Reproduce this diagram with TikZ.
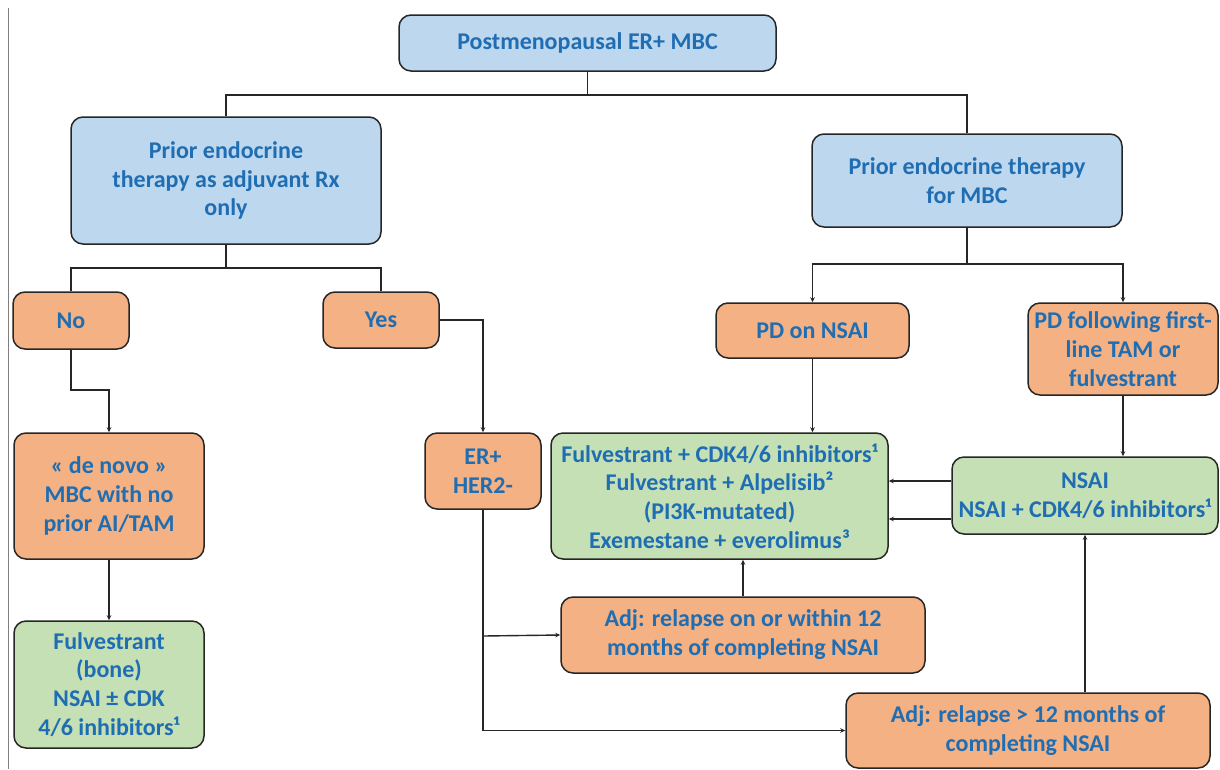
\documentclass[tikz,border=0pt]{standalone}
\usepackage{fontspec}
\setmainfont{Carlito}
\usetikzlibrary{arrows.meta}
\definecolor{txtblue}{HTML}{1F6DB2}
\definecolor{fblue}{HTML}{BDD7EE}
\definecolor{forange}{HTML}{F4B183}
\definecolor{fgreen}{HTML}{C5E0B4}
\begin{document}
\begin{tikzpicture}[x=1pt,y=-1pt,
  box/.style={draw=black!85, line width=1.5pt, rounded corners=12pt, align=center,
    text=txtblue, font=\fontsize{24}{28.8}\selectfont\bfseries, inner sep=1pt},
  bluebox/.style={box, fill=fblue},
  orbox/.style={box, fill=forange},
  grbox/.style={box, fill=fgreen},
  conn/.style={draw=black!85, line width=1.4pt},
  arr/.style={conn, -{Stealth[length=5pt,width=4.5pt]}}]
\useasboundingbox (0,0) rectangle (1220,769);
\fill[white] (0,0) rectangle (1220,769);
\draw[gray, line width=0.8pt] (8,8) -- (8,769);

\node[bluebox, minimum width=377pt, minimum height=56pt] (top) at (587.5,43) {Postmenopausal ER+ MBC};
\node[bluebox, minimum width=310pt, minimum height=127pt] (lb) at (226,180.5) {Prior endocrine\\therapy as adjuvant Rx\\only};
\node[bluebox, minimum width=310pt, minimum height=93pt] (rb) at (967,180.5) {Prior endocrine therapy\\for MBC};

\node[orbox, minimum width=116pt, minimum height=57pt] (no) at (71,320.5) {No};
\node[orbox, minimum width=116pt, minimum height=56pt] (yes) at (381,320) {Yes};
\node[orbox, minimum width=190pt, minimum height=126pt] (dn) at (109,496) {« de novo »\\MBC with no\\prior AI/TAM};
\node[grbox, minimum width=190pt, minimum height=127pt] (fu) at (109,684.5) {Fulvestrant\\(bone)\\NSAI ± CDK\\4/6 inhibitors¹};
\node[orbox, minimum width=116pt, minimum height=76pt] (er) at (483,471) {ER+\\HER2-};

\node[orbox, minimum width=193pt, minimum height=55pt] (pdn) at (812.5,330.5) {PD on NSAI};
\node[orbox, minimum width=190pt, minimum height=92pt] (pdf) at (1123,349) {PD following first-\\line TAM or\\fulvestrant};
\node[grbox, minimum width=337pt, minimum height=126pt] (g1) at (719.5,496) {Fulvestrant + CDK4/6 inhibitors¹\\Fulvestrant + Alpelisib²\\(PI3K-mutated)\\Exemestane + everolimus³};
\node[grbox, minimum width=266pt, minimum height=77pt] (g2) at (1085,495.5) {NSAI\\NSAI + CDK4/6 inhibitors¹};
\node[orbox, minimum width=364pt, minimum height=76pt] (a1) at (743,635) {Adj: relapse on or within 12\\months of completing NSAI};
\node[orbox, minimum width=364pt, minimum height=75pt] (a2) at (1028,730.5) {Adj: relapse > 12 months of\\completing NSAI};

\coordinate (t1) at (587.5,95);
\draw[conn] (top.south) -- (t1);
\draw[conn] (t1) -| (lb.north);
\draw[conn] (t1) -| (rb.north);

\coordinate (l1) at (226,268);
\draw[conn] (lb.south) -- (l1);
\draw[conn] (l1) -| (no.north);
\draw[conn] (l1) -| (yes.north);

\coordinate (r1) at (967,264);
\draw[conn] (rb.south) -- (r1);
\draw[arr] (r1) -| (pdn.north);
\draw[arr] (r1) -| (pdf.north);

\coordinate (n1) at (71,390);
\draw[arr] (no.south) -- (n1) -| (dn.north);
\draw[arr] (dn.south) -- (fu.north);

\draw[arr] (yes.east) -| (er.north);
\coordinate (e1) at (483,636);
\draw[arr] (er.south) |- (a2.west);
\draw[arr] (e1) -- (a1.west);

\draw[arr] (pdn.south) -- (pdn.south |- g1.north);
\draw[arr] (pdf.south) -- (pdf.south |- g2.north);
\draw[arr] ([yshift=-23.5pt]g2.west) -- ([yshift=-23.5pt]g2.west -| g1.east);
\draw[arr] ([yshift=14.5pt]g2.west) -- ([yshift=14.5pt]g2.west -| g1.east);
\draw[arr] (a1.north) -- (a1.north |- g1.south);
\draw[arr] (g2.south |- a2.north) -- (g2.south);
\end{tikzpicture}
\end{document}
